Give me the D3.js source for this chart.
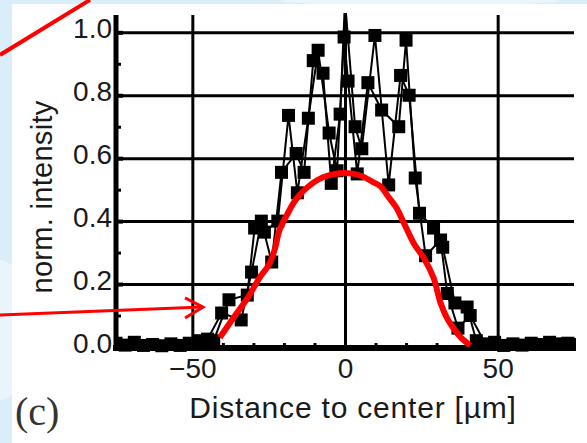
<!DOCTYPE html>
<html>
<head>
<meta charset="utf-8">
<script src="https://cdn.jsdelivr.net/npm/d3@7"></script>
<style>
  body { margin: 0; background: #d9eef9; }
  svg { display: block; }
  .tick text { font-family: "Liberation Sans", Arial, sans-serif; font-size: 28px; fill: #1a1a1a; }
</style>
</head>
<body>
<div id="chart"></div>
<script>
var w = 587,
    h = 443;

// profile 1 (distance µm, norm. intensity)
var seriesA_x = [-75, -69, -63, -57, -51, -45, -40.4, -34, -30.6, -27.4, -24, -20.8, -16, -13.4, -10.4, -7.2, -4.5, -1.6, 0, 3.3, 5.5, 9.8, 14.3, 18.2, 21, 24.4, 29, 32, 36, 40, 43, 49, 55, 61, 67, 73];
var seriesA_y = [0.012, 0.015, 0.008, 0.01, 0.012, 0.025, 0.108, 0.086, 0.238, 0.40, 0.27, 0.555, 0.615, 0.555, 0.91, 0.87, 0.52, 0.74, 1.10, 0.70, 0.63, 0.99, 0.515, 0.863, 0.80, 0.425, 0.378, 0.317, 0.14, 0.127, 0.02, 0.015, 0.01, 0.012, 0.015, 0.012];

// profile 2
var seriesB_x = [-72, -66, -60, -54, -48, -43, -38, -32, -29.6, -26.4, -22, -18.5, -15.6, -12, -8.8, -5.2, -2.6, -0.3, 1, 4, 7.5, 12, 17.6, 20, 23, 26.4, 31.3, 33.5, 37, 41, 46, 52, 58, 64, 70, 75];
var seriesB_y = [0.006, 0.005, 0.004, 0.005, 0.02, 0.02, 0.15, 0.165, 0.378, 0.365, 0.40, 0.736, 0.49, 0.727, 0.943, 0.68, 0.56, 0.985, 0.845, 0.55, 0.84, 0.753, 0.70, 0.975, 0.537, 0.29, 0.34, 0.17, 0.06, 0.10, 0.01, 0.005, 0.006, 0.008, 0.01, 0.008];

// red fit curve
var fit_x = [-41, -36, -31.6, -28, -25, -23, -21.5, -19, -16, -12, -7, 0, 5, 9, 11.7, 14, 17, 19, 22.5, 26, 29, 31.3, 33.5, 35.5, 38, 41];
var fit_y = [0.03, 0.10, 0.16, 0.22, 0.26, 0.31, 0.37, 0.42, 0.47, 0.51, 0.54, 0.553, 0.545, 0.525, 0.51, 0.48, 0.44, 0.40, 0.33, 0.28, 0.22, 0.14, 0.09, 0.06, 0.03, 0.005];

var y_ticks = [0.0, 0.2, 0.4, 0.6, 0.8, 1.0],
    y_minor = [0.1, 0.3, 0.5, 0.7, 0.9],
    x_ticks = [-50, 0, 50],
    x_minor = [-70, -60, -40, -30, -20, -10, 10, 20, 30, 40, 60, 70];

// red annotation lines, in data units
var annot_line = [[-113, 0.928], [-83.5, 1.103]],
    annot_arrow = [[-113, 0.102], [-46.5, 0.127]],
    annot_head = [[-52.4, 0.156], [-46.5, 0.127], [-52.4, 0.092]];

var x = d3.scaleLinear().domain([-75, 75]).range([116, 574]),
    y = d3.scaleLinear().domain([0, 1.055]).range([347, 15]);

var svg = d3.select('#chart').append('svg')
    .attr('width', w)
    .attr('height', h);

// background and white panel
svg.append('rect').attr('width', w).attr('height', h).style('fill', '#d9eef9');
svg.append('ellipse').attr('cx', 0).attr('cy', 330).attr('rx', 30).attr('ry', 70).style('fill', '#e9f5fb');
svg.append('ellipse').attr('cx', 420).attr('cy', 0).attr('rx', 140).attr('ry', 6).style('fill', '#eaf5fb');
svg.append('rect').attr('x', 12).attr('y', 4).attr('width', w - 12).attr('height', h - 4).style('fill', '#ffffff');

svg.append('clipPath').attr('id', 'plotclip')
  .append('rect').attr('x', 116).attr('y', 13).attr('width', 460).attr('height', 350);

// grid
svg.append('g')
    .attr('transform', 'translate(116,0)')
    .call(d3.axisLeft(y).tickValues([0.2, 0.4, 0.6, 0.8, 1.0]).tickSize(-(574 - 116)).tickFormat(''))
    .call(function(g){ g.select('.domain').remove(); })
    .selectAll('line').style('stroke', '#000').style('stroke-width', 3);

svg.append('g')
    .attr('transform', 'translate(0,' + y(0) + ')')
    .call(d3.axisBottom(x).tickValues(x_ticks).tickSize(-(y(0) - y(1.055))).tickFormat(''))
    .call(function(g){ g.select('.domain').remove(); })
    .selectAll('line').style('stroke', '#000').style('stroke-width', 3);

// data
var plot = svg.append('g').attr('clip-path', 'url(#plotclip)');

var line = d3.line()
    .x(function(d){ return x(d[0]); })
    .y(function(d){ return y(d[1]); });

[[seriesA_x, seriesA_y], [seriesB_x, seriesB_y]].forEach(function(s){
    var pts = d3.zip(s[0], s[1]);
    plot.append('path')
        .attr('d', line(pts))
        .style('fill', 'none')
        .style('stroke', '#000')
        .style('stroke-width', 2);
    plot.selectAll(null)
        .data(pts)
      .enter().append('rect')
        .attr('x', function(d){ return x(d[0]) - 6.5; })
        .attr('y', function(d){ return y(d[1]) - 6.5; })
        .attr('width', 13)
        .attr('height', 13)
        .style('fill', '#000');
});

// axes
var yAxis = svg.append('g')
    .attr('transform', 'translate(116,0)')
    .call(d3.axisLeft(y).tickValues(y_ticks).tickSizeInner(-7).tickSizeOuter(0).tickPadding(4)
        .tickFormat(d3.format('.1f')));
yAxis.select('.domain').attr('d', 'M0,' + (y(0) + 3) + 'V' + y(1.055)).style('stroke-width', 5);
yAxis.selectAll('line').style('stroke-width', 4);
yAxis.selectAll('text').attr('dy', '0.2em');

svg.append('g')
    .attr('transform', 'translate(116,0)')
    .call(d3.axisLeft(y).tickValues(y_minor).tickSize(-5).tickFormat(''))
    .call(function(g){ g.select('.domain').remove(); })
    .selectAll('line').style('stroke-width', 3);

var xAxis = svg.append('g')
    .attr('transform', 'translate(0,' + (y(0) + 1) + ')')
    .call(d3.axisBottom(x).tickValues(x_ticks).tickSize(0).tickPadding(10).tickFormat(d3.format('d')));
xAxis.select('.domain').attr('d', 'M113,0H576').style('stroke-width', 6);

svg.append('g')
    .attr('transform', 'translate(0,' + (y(0) + 1) + ')')
    .call(d3.axisBottom(x).tickValues(x_minor).tickSize(-5).tickFormat(''))
    .call(function(g){ g.select('.domain').remove(); })
    .selectAll('line').style('stroke-width', 3);

// red fit
svg.append('path')
    .attr('d', d3.line().curve(d3.curveCatmullRom)
        .x(function(d){ return x(d[0]); })
        .y(function(d){ return y(d[1]); })(d3.zip(fit_x, fit_y)))
    .style('fill', 'none')
    .style('stroke', '#ff0000')
    .style('stroke-width', 6);

// annotation arrows
var aline = d3.line()
    .x(function(d){ return x(d[0]); })
    .y(function(d){ return y(d[1]); });
svg.append('path').attr('d', aline(annot_line))
    .style('fill', 'none').style('stroke', '#ff0000').style('stroke-width', 4);
svg.append('path').attr('d', aline(annot_arrow))
    .style('fill', 'none').style('stroke', '#ff0000').style('stroke-width', 3);
svg.append('path').attr('d', aline(annot_head))
    .style('fill', 'none').style('stroke', '#ff0000').style('stroke-width', 3);

// labels
svg.append('text')
    .attr('transform', 'translate(52,197) rotate(-90)')
    .attr('text-anchor', 'middle')
    .style('font-family', '"Liberation Sans", Arial, sans-serif')
    .style('font-size', '29px')
    .style('letter-spacing', '0.3px')
    .style('fill', '#1a1a1a')
    .text('norm. intensity');

svg.append('text')
    .attr('x', 353)
    .attr('y', 418)
    .attr('text-anchor', 'middle')
    .style('font-family', '"Liberation Sans", Arial, sans-serif')
    .style('font-size', '30px')
    .style('letter-spacing', '0.8px')
    .style('fill', '#1a1a1a')
    .text('Distance to center [µm]');

svg.append('text')
    .attr('x', 15)
    .attr('y', 425)
    .style('font-family', '"Liberation Serif", "Times New Roman", serif')
    .style('font-size', '40px')
    .style('fill', '#333')
    .text('(c)');
</script>
</body>
</html>
